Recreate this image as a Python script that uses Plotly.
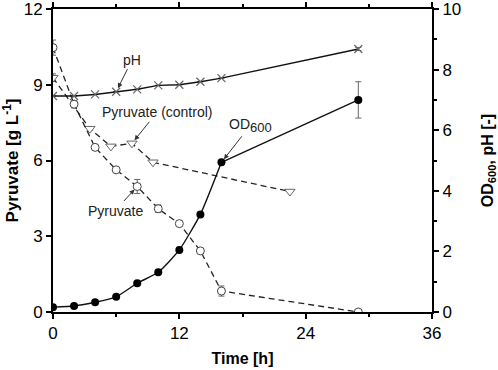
import plotly.graph_objects as go

time = [0, 2, 4, 6, 8, 10, 12, 14, 16, 29]
od600 = [0.16, 0.2, 0.32, 0.5, 0.95, 1.31, 2.05, 3.22, 4.94, 7.0]
od600_err = [0, 0, 0, 0, 0, 0, 0, 0, 0, 0.6]
ph = [7.13, 7.13, 7.18, 7.27, 7.35, 7.48, 7.5, 7.6, 7.72, 8.68]
ph_err = [0, 0, 0, 0, 0, 0, 0, 0, 0, 0.05]
pyruvate = [10.47, 8.23, 6.52, 5.63, 4.97, 4.09, 3.5, 2.42, 0.83, 0.0]
pyruvate_err = [0.3, 0.15, 0, 0, 0.28, 0.15, 0, 0.1, 0.2, 0]
ctrl_time = [0, 3.5, 5.5, 7.5, 9.5, 22.5]
pyruvate_ctrl = [9.28, 7.26, 6.56, 6.68, 5.93, 4.77]
pyruvate_ctrl_err = [0.15, 0, 0, 0, 0, 0]

FONT = "Arial, Liberation Sans, sans-serif"
GRAY = "#666666"

fig = go.Figure()

fig.add_trace(go.Scatter(
    x=ctrl_time, y=pyruvate_ctrl, mode="lines+markers", yaxis="y",
    line=dict(color="#222222", width=1.3, dash="6px,4px"),
    marker=dict(symbol="triangle-down", size=9, color="white",
                line=dict(color=GRAY, width=1)),
    error_y=dict(type="data", array=pyruvate_ctrl_err, color=GRAY, thickness=1, width=3),
    showlegend=False))

fig.add_trace(go.Scatter(
    x=time, y=pyruvate, mode="lines+markers", yaxis="y",
    line=dict(color="#222222", width=1.3, dash="6px,4px"),
    marker=dict(symbol="circle", size=8, color="white",
                line=dict(color="#444444", width=1)),
    error_y=dict(type="data", array=pyruvate_err, color=GRAY, thickness=1, width=3),
    showlegend=False))

fig.add_trace(go.Scatter(
    x=time, y=ph, mode="lines+markers", yaxis="y2",
    line=dict(color="#111111", width=1.4),
    marker=dict(symbol="x-thin", size=8, color=GRAY,
                line=dict(color=GRAY, width=1.2)),
    error_y=dict(type="data", array=ph_err, color=GRAY, thickness=1, width=3),
    showlegend=False))

# OD600: smooth curve over the dense part, straight segment to the last point
fig.add_trace(go.Scatter(
    x=time[:9], y=od600[:9], mode="lines", yaxis="y2",
    line=dict(color="#111111", width=1.4, shape="spline", smoothing=0.5),
    hoverinfo="skip", showlegend=False))
fig.add_trace(go.Scatter(
    x=time[8:], y=od600[8:], mode="lines", yaxis="y2",
    line=dict(color="#111111", width=1.4),
    hoverinfo="skip", showlegend=False))
fig.add_trace(go.Scatter(
    x=time, y=od600, mode="markers", yaxis="y2",
    marker=dict(symbol="circle", size=8, color="black"),
    error_y=dict(type="data", array=od600_err, color=GRAY, thickness=1, width=3),
    showlegend=False))

ann_font = dict(family=FONT, size=14, color="#222222")
arrow = dict(showarrow=True, arrowhead=2, arrowsize=1, arrowwidth=1,
             arrowcolor="#333333", standoff=4, font=ann_font)
fig.add_annotation(x=time[3], y=ph[3], xref="x", yref="y2", text="pH",
                   ax=16, ay=-32, **arrow)
fig.add_annotation(x=ctrl_time[3], y=pyruvate_ctrl[3], xref="x", yref="y",
                   text="Pyruvate (control)", ax=25, ay=-31, **arrow)
fig.add_annotation(x=time[8], y=od600[8], xref="x", yref="y2",
                   text="OD<sub><span style='font-size:13px'>600</span></sub>",
                   ax=29, ay=-37, **arrow)
fig.add_annotation(x=time[4], y=pyruvate[4], xref="x", yref="y",
                   text="Pyruvate", ax=-22, ay=24, **arrow)

axis_common = dict(showgrid=False, zeroline=False, showline=True, linecolor="black",
                   linewidth=2, ticks="outside", ticklen=5, tickwidth=1.5,
                   tickcolor="black", automargin=False, ticklabeloverflow="allow",
                   tickfont=dict(family=FONT, size=17, color="black"))

fig.update_layout(
    width=498, height=370,
    margin=dict(l=53, r=66, t=9, b=58),
    paper_bgcolor="white", plot_bgcolor="white",
    xaxis=dict(range=[0, 36], dtick=12, tick0=0, mirror="ticks",
               minor=dict(dtick=6, ticks="outside", ticklen=3, tickwidth=1.5, tickcolor="black"),
               title=dict(text="<b>Time [h]</b>", font=dict(family=FONT, size=16, color="black"),
                          standoff=10),
               **axis_common),
    yaxis=dict(range=[0, 12], dtick=3, tick0=0,
               title=dict(text="<b>Pyruvate [g L<sup>-1</sup>]</b>",
                          font=dict(family=FONT, size=17, color="black"), standoff=8),
               **axis_common),
    yaxis2=dict(range=[0, 10], dtick=2, tick0=0, overlaying="y", side="right",
                minor=dict(dtick=1, ticks="outside", ticklen=3, tickwidth=1.5, tickcolor="black"),
                title=dict(text="<b>OD<sub>600</sub>, pH [-]</b>",
                           font=dict(family=FONT, size=16, color="black"), standoff=25),
                **axis_common),
)

fig.write_html("out.html", config={"displayModeBar": False},
               post_script="document.body.style.margin='0';document.body.style.padding='0';")
